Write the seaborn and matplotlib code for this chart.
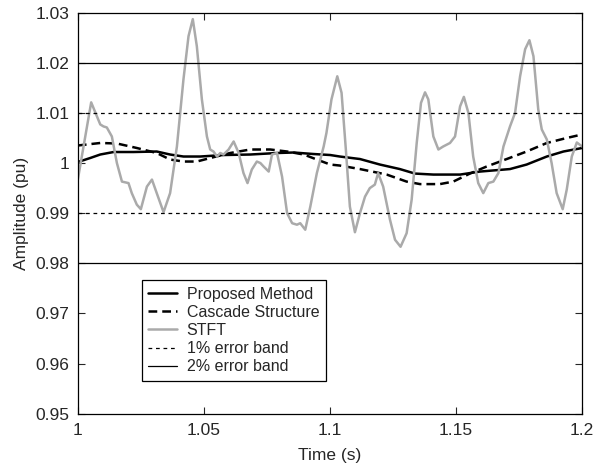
import numpy as np
import pandas as pd
import matplotlib
matplotlib.use("Agg")
import matplotlib.pyplot as plt
import seaborn as sns

# STFT estimate (grey, noisy)
stft_t = [1.0, 1.0053, 1.0089, 1.0102, 1.0115, 1.0135, 1.0155, 1.0175, 1.0201, 1.0214,
          1.0234, 1.025, 1.0274, 1.0294, 1.0313, 1.034, 1.0366, 1.0393, 1.0419, 1.0439,
          1.0456, 1.0472, 1.0492, 1.0512, 1.0525, 1.0538, 1.0552, 1.0565, 1.0578, 1.0598,
          1.0618, 1.0638, 1.0657, 1.0673, 1.069, 1.071, 1.0724, 1.0737, 1.0757, 1.077,
          1.079, 1.081, 1.083, 1.085, 1.0869, 1.0882, 1.0902, 1.0922, 1.0948, 1.0975,
          1.0986, 1.1006, 1.1029, 1.1046, 1.1063, 1.1079, 1.1099, 1.1119, 1.1139, 1.1158,
          1.1178, 1.1191, 1.1211, 1.1238, 1.1258, 1.128, 1.1304, 1.1324, 1.1344, 1.1361,
          1.1377, 1.139, 1.141, 1.143, 1.1449, 1.1476, 1.1496, 1.1516, 1.1531, 1.1549,
          1.1568, 1.1588, 1.1608, 1.1628, 1.1648, 1.1668, 1.1688, 1.1714, 1.1734, 1.1754,
          1.1774, 1.1791, 1.1807, 1.1826, 1.184, 1.186, 1.1879, 1.1899, 1.1923, 1.1939,
          1.1959, 1.1979, 1.2]
stft_a = [0.9967, 1.0121, 1.0077, 1.0073, 1.0071, 1.0053, 1.0, 0.9963, 0.996, 0.994,
          0.9917, 0.9908, 0.9953, 0.9967, 0.994, 0.9902, 0.994, 1.0033, 1.0167, 1.0253,
          1.0287, 1.0233, 1.0127, 1.0053, 1.0027, 1.0023, 1.0013, 1.002, 1.0017, 1.0027,
          1.0043, 1.002, 0.998, 0.996, 0.9987, 1.0003, 1.0, 0.9993, 0.9983, 1.0017,
          1.002, 0.9973, 0.99, 0.988, 0.9877, 0.988, 0.9867, 0.9913, 0.998, 1.0033,
          1.006, 1.0127, 1.0173, 1.014, 1.0027, 0.9913, 0.9862, 0.99, 0.9933, 0.995,
          0.9957, 0.998, 0.9953, 0.9887, 0.9847, 0.9833, 0.986, 0.9927, 1.004, 1.012,
          1.0141, 1.0127, 1.0053, 1.0027, 1.0033, 1.004, 1.0053, 1.0113, 1.0132, 1.01,
          1.0013, 0.996, 0.994, 0.996, 0.9963, 0.998, 1.0033, 1.0073, 1.01, 1.0173,
          1.0227, 1.0245, 1.0213, 1.0107, 1.0067, 1.0047, 1.0, 0.994, 0.9908, 0.9947,
          1.0013, 1.0041, 1.0033]

# Proposed method (solid black)
prop_t = [1.0, 1.0049, 1.0089, 1.0142, 1.0221, 1.0313, 1.0366, 1.0419, 1.0485, 1.0578,
          1.0684, 1.079, 1.0856, 1.0935, 1.1001, 1.1039, 1.1119, 1.1198, 1.1277, 1.1337,
          1.141, 1.1516, 1.1595, 1.1714, 1.178, 1.186, 1.1926, 1.2]
prop_a = [1.0002, 1.001, 1.0017, 1.0022, 1.0022, 1.0023, 1.0017, 1.0013, 1.0013, 1.0016,
          1.0017, 1.002, 1.0021, 1.0018, 1.0016, 1.0013, 1.0008, 0.9997, 0.9988, 0.9979,
          0.9977, 0.9977, 0.9983, 0.9988, 0.9997, 1.0013, 1.0023, 1.003]

# Cascade structure (dashed black)
casc_t = [1.0, 1.0089, 1.0155, 1.0234, 1.0313, 1.0366, 1.0419, 1.0472, 1.0525, 1.0604,
          1.0684, 1.0763, 1.083, 1.0896, 1.0948, 1.1001, 1.1039, 1.1119, 1.1225, 1.1304,
          1.1357, 1.1436, 1.1489, 1.1555, 1.1621, 1.1701, 1.178, 1.186, 1.1939, 1.2]
casc_a = [1.0035, 1.004, 1.0039, 1.003, 1.002, 1.0007, 1.0003, 1.0003, 1.001, 1.002,
          1.0027, 1.0027, 1.0023, 1.0017, 1.0007, 0.9997, 0.9995, 0.9988, 0.9977, 0.9963,
          0.9958, 0.9958, 0.9963, 0.9979, 0.9993, 1.0008, 1.0023, 1.004, 1.005, 1.0057]

band_1pct = [1.01, 0.99]
band_2pct = [1.02, 0.98]

x_ticks = [1, 1.05, 1.1, 1.15, 1.2]
x_labels = ['1', '1.05', '1.1', '1.15', '1.2']
y_ticks = [0.95, 0.96, 0.97, 0.98, 0.99, 1.0, 1.01, 1.02, 1.03]
y_labels = ['0.95', '0.96', '0.97', '0.98', '0.99', '1', '1.01', '1.02', '1.03']

sns.set_style("ticks")
plt.rcParams['font.family'] = ['Liberation Sans', 'DejaVu Sans']

fig, ax = plt.subplots(figsize=(5.94, 4.68), dpi=100)
fig.subplots_adjust(left=0.131, right=0.980, bottom=0.116, top=0.973)

sns.lineplot(x=prop_t, y=prop_a, ax=ax, color='black', lw=1.8, sort=False,
             label='Proposed Method')
sns.lineplot(x=casc_t, y=casc_a, ax=ax, color='black', lw=1.8, sort=False,
             linestyle=(0, (3.5, 2)), label='Cascade Structure')
sns.lineplot(x=stft_t, y=stft_a, ax=ax, color='#aaaaaa', lw=1.8, sort=False,
             label='STFT')

for i, v in enumerate(band_1pct):
    ax.axhline(v, color='black', lw=0.9, linestyle=(0, (3, 3)),
               label='1% error band' if i == 0 else None)
for i, v in enumerate(band_2pct):
    ax.axhline(v, color='black', lw=0.9,
               label='2% error band' if i == 0 else None)

ax.set_xlim(1, 1.2)
ax.set_ylim(0.95, 1.03)
ax.set_xticks(x_ticks)
ax.set_xticklabels(x_labels)
ax.set_yticks(y_ticks)
ax.set_yticklabels(y_labels)
ax.tick_params(direction='in', top=True, right=True, labelsize=12.5, length=5,
               width=0.8)
ax.tick_params(axis='x', pad=7)
ax.tick_params(axis='y', pad=6)
for s in ax.spines.values():
    s.set_linewidth(0.9)
    s.set_color('black')

ax.set_xlabel('Time (s)', fontsize=12.5, labelpad=7)
ax.set_ylabel('Amplitude (pu)', fontsize=12.5, labelpad=5)

leg = ax.legend(loc='upper left', bbox_to_anchor=(0.127, 0.333), fontsize=11.5,
                frameon=True, fancybox=False, framealpha=1, edgecolor='black',
                handlelength=1.8, borderpad=0.4, labelspacing=0.2,
                handletextpad=0.6, borderaxespad=0)
leg.get_frame().set_linewidth(0.9)

fig.savefig('out.png', dpi=100)
